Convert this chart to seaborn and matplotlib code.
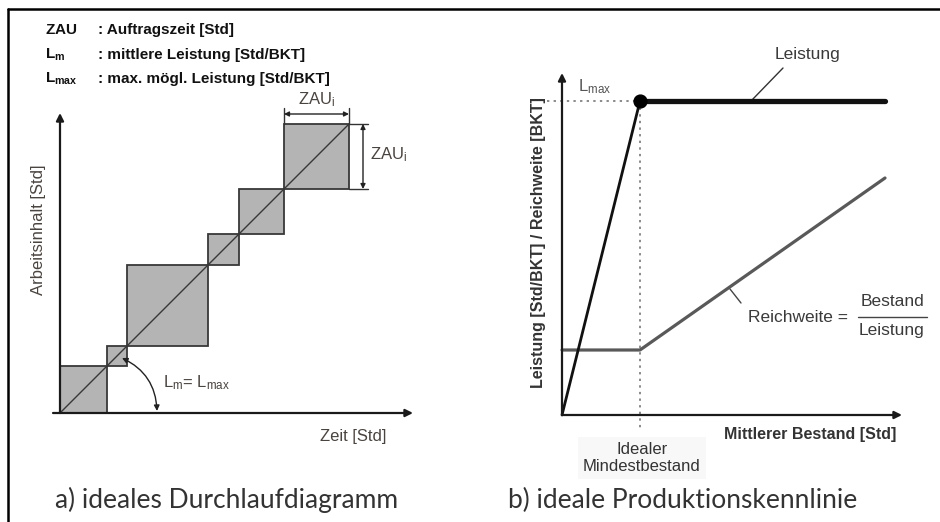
import matplotlib
matplotlib.use('Agg')
import matplotlib.pyplot as plt
import seaborn as sns
import numpy as np
from matplotlib.patches import Rectangle
from matplotlib.lines import Line2D

# ---------------- data ----------------
# a) order times ZAU_i (squares along the ideal throughput diagram)
zau = [4.7, 2.0, 8.1, 3.1, 4.5, 6.5]
# b) ideal production characteristic
bestand = [0.0, 7.8, 32.3]          # mean inventory
leistung = [0.0, 31.4, 31.4]        # output
reich_x = [0.0, 7.8, 32.3]          # inventory for range curve
reich_y = [6.5, 6.5, 23.7]          # range (Reichweite)

legend_sym = [r'$\mathbf{ZAU}$', r'$\mathbf{L_m}$', r'$\mathbf{L_{max}}$']
legend_txt = [': Auftragszeit [Std]', ': mittlere Leistung [Std/BKT]',
              ': max. mögl. Leistung [Std/BKT]']
captions = ['a) ideales Durchlaufdiagramm', 'b) ideale Produktionskennlinie']

# ---------------- style ----------------
sns.set_theme(style='white')
plt.rcParams['font.family'] = ['Liberation Sans', 'DejaVu Sans']
plt.rcParams['mathtext.fontset'] = 'custom'
plt.rcParams['mathtext.rm'] = 'Liberation Sans'
plt.rcParams['mathtext.it'] = 'Liberation Sans'
plt.rcParams['mathtext.bf'] = 'Liberation Sans:bold'

W, H = 940, 522
fig = plt.figure(figsize=(9.4, 5.22), dpi=100)
fig.patch.set_facecolor('white')


def add_axes_px(x0, x1, y0, y1, ox, oy, scale=10.0):
    ax = fig.add_axes([x0 / W, 1 - y1 / H, (x1 - x0) / W, (y1 - y0) / H])
    ax.set_xlim((x0 - ox) / scale, (x1 - ox) / scale)
    ax.set_ylim((oy - y1) / scale, (oy - y0) / scale)
    ax.axis('off')
    return ax


def fx(px):
    return px / W


def fy(py):
    return 1 - py / H


# frame (top and left edges)
fig.add_artist(Line2D([fx(8), 1.0], [fy(9), fy(9)], color='black', lw=1.8))
fig.add_artist(Line2D([fx(8), fx(8)], [fy(9), 0.0], color='black', lw=1.8))

# legend block
rows_y = [30, 55, 79]
for sym, txt, ry in zip(legend_sym, legend_txt, rows_y):
    fig.text(fx(45), fy(ry), sym, fontsize=11, color='#111111', va='center', ha='left')
    fig.text(fx(98), fy(ry), txt, fontsize=11, fontweight='bold', color='#111111',
             va='center', ha='left')

# captions
for cx, cap in zip((55, 508), captions):
    fig.text(fx(cx), fy(500), cap, fontsize=19, family=['Lato', 'DejaVu Sans'],
             fontweight='normal', color='#333333', va='center', ha='left')

arrow_kw = dict(arrowstyle='-|>', color='#1a1a1a', lw=1.6, mutation_scale=11,
                shrinkA=0, shrinkB=0)

# ---------------- a) ideales Durchlaufdiagramm ----------------
ax1 = add_axes_px(20, 430, 95, 450, 60, 413)
edges = np.concatenate([[0.0], np.cumsum(zau)])
for s, w in zip(edges[:-1], zau):
    ax1.add_patch(Rectangle((s, s), w, w, facecolor='#b4b4b4', edgecolor='#383838',
                            lw=1.3, zorder=2))
sns.lineplot(x=[0, edges[-1]], y=[0, edges[-1]], ax=ax1, color='#383838', lw=1.0,
             zorder=3, legend=False)

ax1.annotate('', xy=(35.3, 0), xytext=(-0.7, 0), arrowprops=arrow_kw, zorder=4)
ax1.annotate('', xy=(0, 30.0), xytext=(0, 0), arrowprops=arrow_kw, zorder=4)

lab_col = '#4a4440'
ax1.text(-2.1, 18.3, 'Arbeitsinhalt [Std]', rotation=90, fontsize=12, color=lab_col,
         ha='center', va='center')
ax1.text(29.3, -2.3, 'Zeit [Std]', fontsize=12, color=lab_col, ha='center', va='center')

# dimension ZAU_i (horizontal)
s_last, e_last = edges[-2], edges[-1]
dim_kw = dict(arrowstyle='<|-|>', color='#222222', lw=1.0, mutation_scale=7,
              shrinkA=0, shrinkB=0)
for xv in (s_last, e_last):
    ax1.plot([xv, xv], [e_last, e_last + 1.6], color='#333333', lw=1.0)
ax1.annotate('', xy=(e_last, e_last + 1.0), xytext=(s_last, e_last + 1.0), arrowprops=dim_kw)
ax1.text((s_last + e_last) / 2, e_last + 1.5, r'$\mathrm{ZAU_i}$', fontsize=12,
         color=lab_col, ha='center', va='bottom')
# dimension ZAU_i (vertical)
for yv in (s_last, e_last):
    ax1.plot([e_last, e_last + 1.9], [yv, yv], color='#333333', lw=1.0)
ax1.annotate('', xy=(e_last + 1.4, e_last), xytext=(e_last + 1.4, s_last), arrowprops=dim_kw)
ax1.text(e_last + 2.1, (s_last + e_last) / 2 + 0.2, r'$\mathrm{ZAU_i}$', fontsize=12,
         color=lab_col, ha='left', va='center')

# angle arc  Lm = Lmax
ax1.annotate('', xy=(6.2, 5.5), xytext=(9.7, 0.2),
             arrowprops=dict(arrowstyle='<|-|>', connectionstyle='arc3,rad=0.3',
                             color='#222222', lw=1.0, mutation_scale=8,
                             shrinkA=0, shrinkB=0), zorder=5)
ax1.text(10.3, 3.0, r'$\mathrm{L_m}$= $\mathrm{L_{max}}$', fontsize=12, color=lab_col,
         ha='left', va='center')

# ---------------- b) ideale Produktionskennlinie ----------------
ax2 = add_axes_px(500, 935, 40, 480, 562, 415)

# dotted guides
ax2.plot([-1.5, bestand[1]], [leistung[1], leistung[1]], ls=(0, (1.2, 2.2)),
         color='#8a8a8a', lw=1.4, zorder=1)
ax2.plot([bestand[1], bestand[1]], [leistung[1], -1.5], ls=(0, (1.2, 2.2)),
         color='#8a8a8a', lw=1.4, zorder=1)

ax2.annotate('', xy=(34.0, 0), xytext=(0, 0), arrowprops=arrow_kw, zorder=4)
ax2.annotate('', xy=(0, 34.2), xytext=(0, 0), arrowprops=arrow_kw, zorder=4)

# Reichweite
sns.lineplot(x=reich_x, y=reich_y, ax=ax2, color='#595959', lw=2.3, zorder=2,
             legend=False)
# Leistung: rising part and saturated part
sns.lineplot(x=bestand[:2], y=leistung[:2], ax=ax2, color='#111111', lw=2.0, zorder=3,
             legend=False)
sns.lineplot(x=bestand[1:], y=leistung[1:], ax=ax2, color='#111111', lw=3.8, zorder=3,
             legend=False)
ax2.scatter([bestand[1]], [leistung[1]], s=85, color='#000000', zorder=6)

txt_col = '#3a3a3a'
ax2.text(3.3, 32.8, r'$\mathrm{L_{max}}$', fontsize=12, color='#555555', ha='center',
         va='center')
ax2.text(24.5, 36.0, 'Leistung', fontsize=12.5, color=txt_col, ha='center', va='center')
ax2.plot([22.1, 19.0], [34.7, 31.5], color='#333333', lw=1.0)

ax2.text(18.6, 9.8, 'Reichweite =', fontsize=12.5, color=txt_col, ha='left', va='center')
ax2.text(33.0, 11.3, 'Bestand', fontsize=12.5, color=txt_col, ha='center', va='center')
ax2.text(33.0, 8.4, 'Leistung', fontsize=12.5, color=txt_col, ha='center', va='center')
ax2.plot([29.6, 36.5], [9.8, 9.8], color='#444444', lw=1.0)
ax2.plot([16.8, 17.9], [12.6, 11.2], color='#444444', lw=1.0)

ax2.text(-2.4, 17.2, 'Leistung [Std/BKT] / Reichweite [BKT]', rotation=90, fontsize=11.5,
         fontweight='bold', color='#333333', ha='center', va='center')
ax2.text(24.8, -2.0, 'Mittlerer Bestand [Std]', fontsize=11.5, fontweight='bold',
         color='#333333', ha='center', va='center')
ax2.text(8.0, -4.3, 'Idealer\nMindestbestand', fontsize=12, color='#333333',
         ha='center', va='center', linespacing=1.2,
         bbox=dict(boxstyle='square,pad=0.3', facecolor='#f8f8f8', edgecolor='none'))

fig.savefig('out.png', dpi=100, facecolor='white')
